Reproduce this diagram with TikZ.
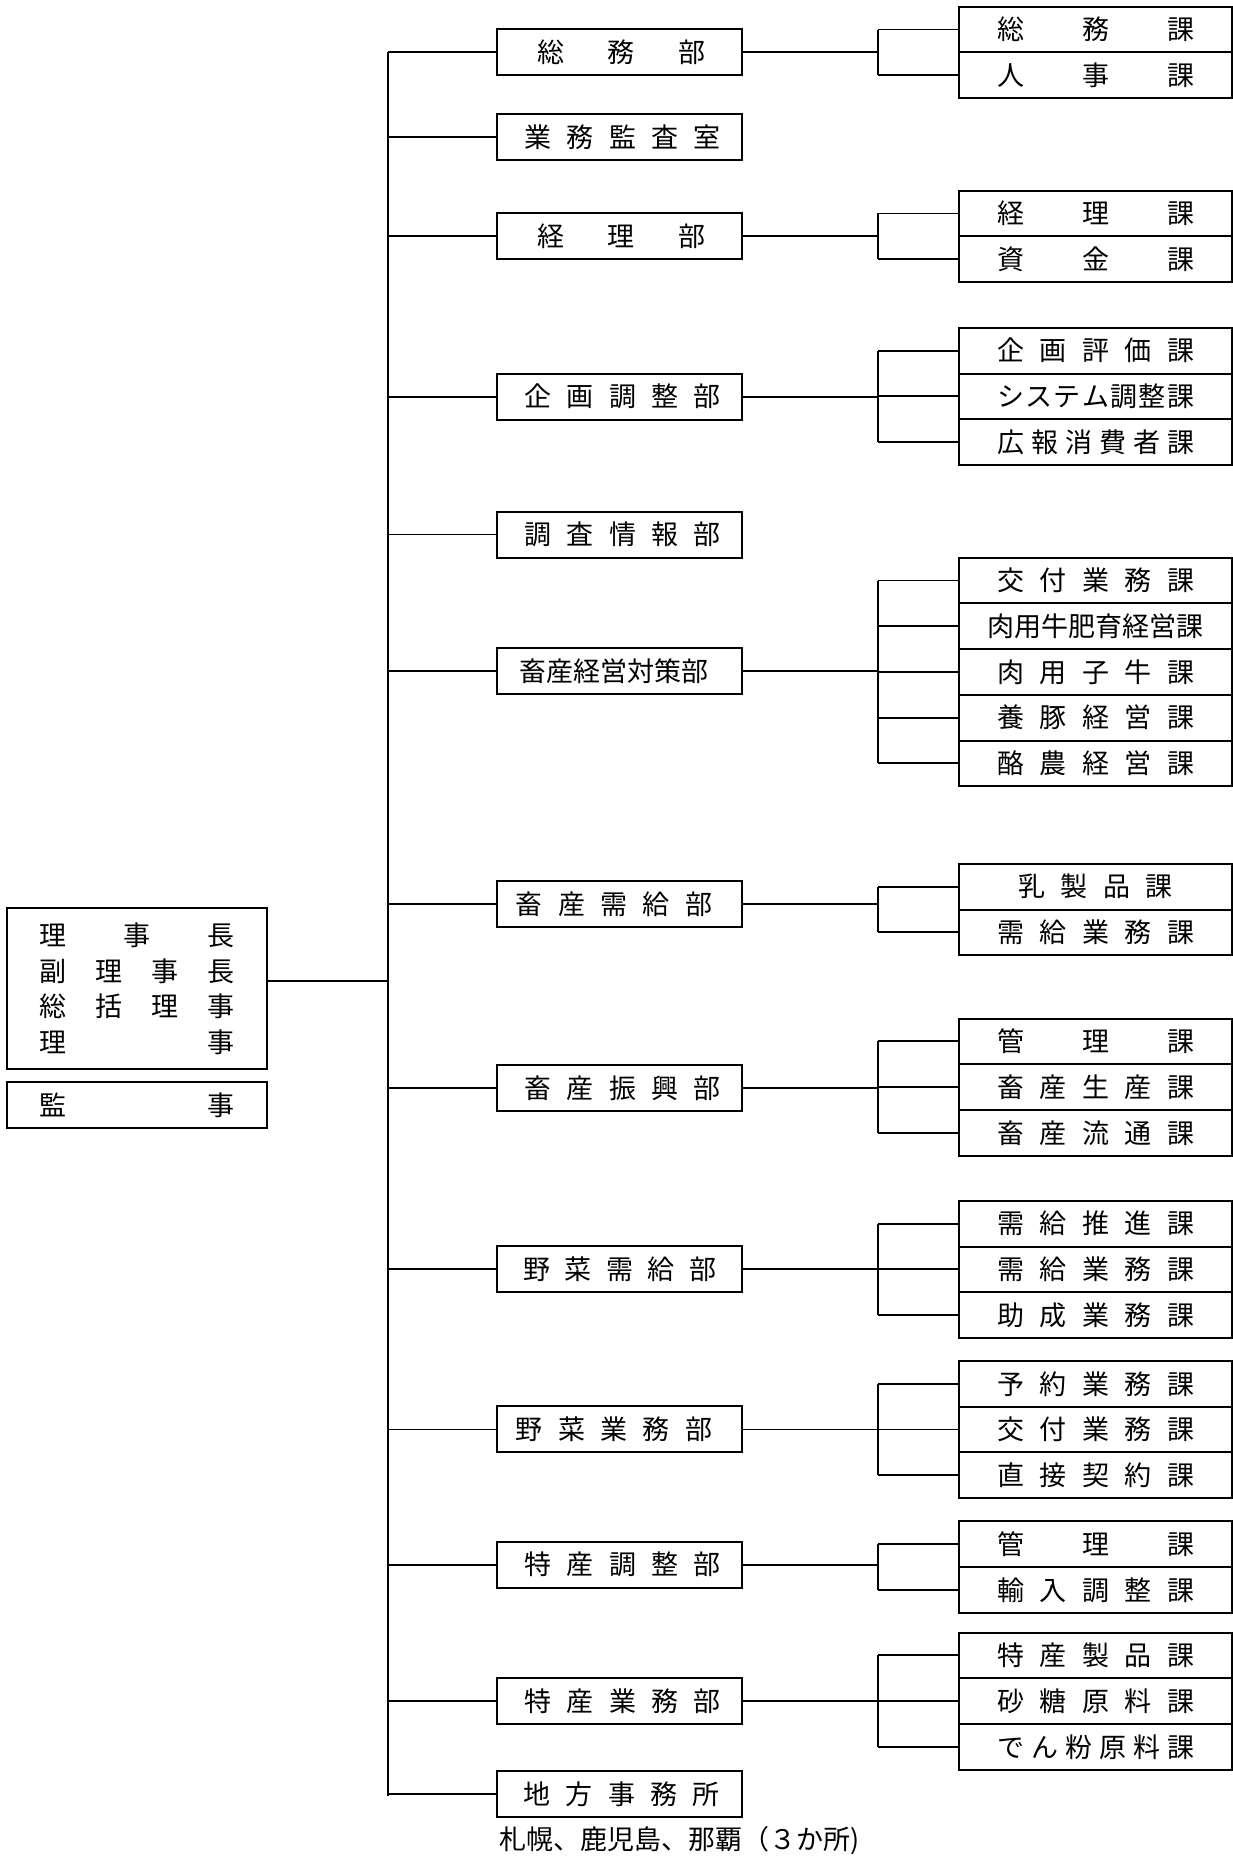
\documentclass[tikz,border=0pt]{standalone}
\usepackage{fontspec}
\newfontfamily\jp{Noto Sans CJK JP}
\newcommand{\dist}[2]{\makebox[#1pt]{#2}}
\newcommand{\shft}[2]{\hspace*{#1pt}#2\hspace*{-#1pt}}
\tikzset{
  box/.style={draw, line width=2pt, inner sep=0pt, outer sep=0pt, font=\jp\fontsize{27}{30}\selectfont},
  dept/.style={box, minimum width=245.6pt, minimum height=46pt},
  sub/.style={box, minimum width=272.5pt, minimum height=45.7pt, anchor=north west},
  conn/.style={line width=1.8pt},
}
\begin{document}
\begin{tikzpicture}[x=1pt,y=-1pt]
\useasboundingbox (0,0) rectangle (1233,1856);
\coordinate (tr) at (388.3,0);
\coordinate (br) at (878,0);

% executive boxes
\node[box, minimum width=259.4pt, minimum height=161pt, align=center,
      font=\jp\fontsize{27}{35.9}\selectfont] (exec) at (137,988.8)
  {\dist{195}{理\hfill 事\hfill 長}\\
   \dist{195}{副\hfill 理\hfill 事\hfill 長}\\
   \dist{195}{総\hfill 括\hfill 理\hfill 事}\\
   \dist{195}{理\hfill 事}};
\node[box, minimum width=259.4pt, minimum height=46.6pt] (kanji) at (137,1105)
  {\dist{195}{監\hfill 事}};

% departments
\node[dept] (d1) at (619.5,52.3) {\shft{2}{\dist{169}{総\hfill 務\hfill 部}}};
\node[dept] (d2) at (619.5,137) {\shft{3}{\dist{197}{業\hfill 務\hfill 監\hfill 査\hfill 室}}};
\node[dept] (d3) at (619.5,236) {\shft{2}{\dist{169}{経\hfill 理\hfill 部}}};
\node[dept] (d4) at (619.5,396.6) {\shft{3}{\dist{197}{企\hfill 画\hfill 調\hfill 整\hfill 部}}};
\node[dept] (d5) at (619.5,534.5) {\shft{3}{\dist{197}{調\hfill 査\hfill 情\hfill 報\hfill 部}}};
\node[dept] (d6) at (619.5,670.8) {\shft{-5.5}{畜産経営対策部}};
\node[dept] (d7) at (619.5,903.9) {\shft{-5.5}{\dist{197}{畜\hfill 産\hfill 需\hfill 給\hfill 部}}};
\node[dept] (d8) at (619.5,1087.9) {\shft{3}{\dist{197}{畜\hfill 産\hfill 振\hfill 興\hfill 部}}};
\node[dept] (d9) at (619.5,1269) {\shft{0}{\dist{193}{野\hfill 菜\hfill 需\hfill 給\hfill 部}}};
\node[dept] (d10) at (619.5,1429.4) {\shft{-5.5}{\dist{197}{野\hfill 菜\hfill 業\hfill 務\hfill 部}}};
\node[dept] (d11) at (619.5,1564.6) {\shft{3}{\dist{197}{特\hfill 産\hfill 調\hfill 整\hfill 部}}};
\node[dept] (d12) at (619.5,1700.9) {\shft{3}{\dist{197}{特\hfill 産\hfill 業\hfill 務\hfill 部}}};
\node[dept] (d13) at (619.5,1794) {\shft{2}{\dist{197}{地\hfill 方\hfill 事\hfill 務\hfill 所}}};
\node[font=\jp\fontsize{27}{30}\selectfont, inner sep=0pt, anchor=west] (note) at (499.5,1841)
  {札幌、鹿児島、那覇（３か所)};

% sections
\node[sub] (s1a) at (959.3,6.7) {\dist{197}{総\hfill 務\hfill 課}};
\node[sub] (s1b) at (s1a.south west) {\dist{197}{人\hfill 事\hfill 課}};

\node[sub] (s3a) at (959.3,190.6) {\dist{197}{経\hfill 理\hfill 課}};
\node[sub] (s3b) at (s3a.south west) {\dist{197}{資\hfill 金\hfill 課}};

\node[sub] (s4a) at (959.3,327.8) {\dist{197}{企\hfill 画\hfill 評\hfill 価\hfill 課}};
\node[sub] (s4b) at (s4a.south west) {\dist{197}{シ\hfill ス\hfill テ\hfill ム\hfill 調\hfill 整\hfill 課}};
\node[sub] (s4c) at (s4b.south west) {\dist{197}{広\hfill 報\hfill 消\hfill 費\hfill 者\hfill 課}};

\node[sub] (s6a) at (959.3,557.7) {\dist{197}{交\hfill 付\hfill 業\hfill 務\hfill 課}};
\node[sub] (s6b) at (s6a.south west) {肉用牛肥育経営課};
\node[sub] (s6c) at (s6b.south west) {\dist{197}{肉\hfill 用\hfill 子\hfill 牛\hfill 課}};
\node[sub] (s6d) at (s6c.south west) {\dist{197}{養\hfill 豚\hfill 経\hfill 営\hfill 課}};
\node[sub] (s6e) at (s6d.south west) {\dist{197}{酪\hfill 農\hfill 経\hfill 営\hfill 課}};

\node[sub] (s7a) at (959.3,863.8) {\dist{154.5}{乳\hfill 製\hfill 品\hfill 課}};
\node[sub] (s7b) at (s7a.south west) {\dist{197}{需\hfill 給\hfill 業\hfill 務\hfill 課}};

\node[sub] (s8a) at (959.3,1018.5) {\dist{197}{管\hfill 理\hfill 課}};
\node[sub] (s8b) at (s8a.south west) {\dist{197}{畜\hfill 産\hfill 生\hfill 産\hfill 課}};
\node[sub] (s8c) at (s8b.south west) {\dist{197}{畜\hfill 産\hfill 流\hfill 通\hfill 課}};

\node[sub] (s9a) at (959.3,1200.8) {\dist{197}{需\hfill 給\hfill 推\hfill 進\hfill 課}};
\node[sub] (s9b) at (s9a.south west) {\dist{197}{需\hfill 給\hfill 業\hfill 務\hfill 課}};
\node[sub] (s9c) at (s9b.south west) {\dist{197}{助\hfill 成\hfill 業\hfill 務\hfill 課}};

\node[sub] (s10a) at (959.3,1361) {\dist{197}{予\hfill 約\hfill 業\hfill 務\hfill 課}};
\node[sub] (s10b) at (s10a.south west) {\dist{197}{交\hfill 付\hfill 業\hfill 務\hfill 課}};
\node[sub] (s10c) at (s10b.south west) {\dist{197}{直\hfill 接\hfill 契\hfill 約\hfill 課}};

\node[sub] (s11a) at (959.3,1521.3) {\dist{197}{管\hfill 理\hfill 課}};
\node[sub] (s11b) at (s11a.south west) {\dist{197}{輸\hfill 入\hfill 調\hfill 整\hfill 課}};

\node[sub] (s12a) at (959.3,1632.5) {\dist{197}{特\hfill 産\hfill 製\hfill 品\hfill 課}};
\node[sub] (s12b) at (s12a.south west) {\dist{197}{砂\hfill 糖\hfill 原\hfill 料\hfill 課}};
\node[sub] (s12c) at (s12b.south west) {\dist{197}{で\hfill ん\hfill 粉\hfill 原\hfill 料\hfill 課}};

% trunk and executive link
\draw[conn] (tr |- d1.west) -- (tr |- 0,1796);
\draw[conn] (exec.east |- 0,981) -- (tr |- 0,981);
\foreach \d in {d1,d2,d3,d4,d5,d6,d7,d8,d9,d10,d11,d12,d13}
  \draw[conn] (tr |- \d.west) -- (\d.west);

% dept -> bracket
\foreach \d in {d1,d3,d4,d6,d7,d8,d9,d10,d11,d12}
  \draw[conn] (\d.east) -- (br |- \d.east);

% brackets
\draw[conn] (br |- s1a.west) -- (br |- s1b.west);
\draw[conn] (br |- s3a.west) -- (br |- s3b.west);
\draw[conn] (br |- s4a.west) -- (br |- s4c.west);
\draw[conn] (br |- s6a.west) -- (br |- s6e.west);
\draw[conn] (br |- s7a.west) -- (br |- s7b.west);
\draw[conn] (br |- s8a.west) -- (br |- s8c.west);
\draw[conn] (br |- s9a.west) -- (br |- s9c.west);
\draw[conn] (br |- s10a.west) -- (br |- s10c.west);
\draw[conn] (br |- s11a.west) -- (br |- s11b.west);
\draw[conn] (br |- s12a.west) -- (br |- s12c.west);
\foreach \s in {s1a,s1b,s3a,s3b,s4a,s4b,s4c,s6a,s6b,s6c,s6d,s6e,s7a,s7b,s8a,s8b,s8c,s9a,s9b,s9c,s10a,s10b,s10c,s11a,s11b,s12a,s12b,s12c}
  \draw[conn] (br |- \s.west) -- (\s.west);
\end{tikzpicture}
\end{document}
